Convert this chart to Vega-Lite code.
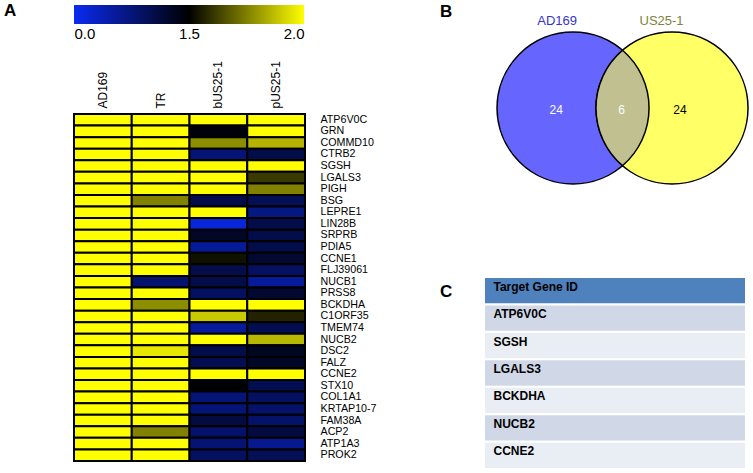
{
  "$schema": "https://vega.github.io/schema/vega-lite/v6.json",
  "background": "white",
  "padding": {"left": 4, "top": 2, "right": 0, "bottom": 0},
  "config": {"view": {"stroke": null}, "font": "Liberation Sans"},
  "spacing": 63,
  "hconcat": [
    {
      "spacing": 19,
      "vconcat": [
        {
          "width": 230,
          "height": 19,
          "title": {"text": "A", "anchor": "start", "frame": "group", "fontSize": 17, "fontWeight": "bold", "color": "black", "dx": -70, "dy": 28, "offset": 0, "baseline": "alphabetic"},
          "data": {"values": [{"low": 0, "high": 2}]},
          "mark": {
            "type": "rect",
            "color": {"gradient": "linear", "x1": 0, "x2": 1, "y1": 0, "y2": 0,
              "stops": [{"offset": 0, "color": "#0a2af0"}, {"offset": 0.5, "color": "#000000"}, {"offset": 1, "color": "#ffff00"}]}
          },
          "encoding": {
            "x": {"field": "low", "type": "quantitative",
              "scale": {"type": "pow", "exponent": 2.4094, "domain": [0, 2], "nice": false, "zero": false},
              "axis": {"values": [0, 1.5, 2], "format": ".1f", "ticks": false, "domain": false, "grid": false, "labelFlush": true, "labelFontSize": 15, "labelPadding": 2, "title": null, "labelColor": "black"}},
            "x2": {"field": "high"}
          }
        },
        {
          "width": 231,
          "height": 347,
          "data": {"values": [
            {"gene": "ATP6V0C", "AD169": 2, "TR": 2, "bUS25-1": 2, "pUS25-1": 2},
            {"gene": "GRN", "AD169": 2, "TR": 2, "bUS25-1": 1.47, "pUS25-1": 2},
            {"gene": "COMMD10", "AD169": 2, "TR": 2, "bUS25-1": 1.80, "pUS25-1": 1.87},
            {"gene": "CTRB2", "AD169": 2, "TR": 2, "bUS25-1": 1.13, "pUS25-1": 1.29},
            {"gene": "SGSH", "AD169": 2, "TR": 2, "bUS25-1": 2, "pUS25-1": 2},
            {"gene": "LGALS3", "AD169": 2, "TR": 2, "bUS25-1": 2, "pUS25-1": 1.63},
            {"gene": "PIGH", "AD169": 2, "TR": 2, "bUS25-1": 2, "pUS25-1": 1.78},
            {"gene": "BSG", "AD169": 2, "TR": 1.78, "bUS25-1": 1.29, "pUS25-1": 1.25},
            {"gene": "LEPRE1", "AD169": 2, "TR": 2, "bUS25-1": 2, "pUS25-1": 1.09},
            {"gene": "LIN28B", "AD169": 2, "TR": 2, "bUS25-1": 0.58, "pUS25-1": 1.29},
            {"gene": "SRPRB", "AD169": 2, "TR": 2, "bUS25-1": 1.39, "pUS25-1": 1.29},
            {"gene": "PDIA5", "AD169": 2, "TR": 2, "bUS25-1": 0.98, "pUS25-1": 1.29},
            {"gene": "CCNE1", "AD169": 2, "TR": 2, "bUS25-1": 1.54, "pUS25-1": 1.37},
            {"gene": "FLJ39061", "AD169": 2, "TR": 2, "bUS25-1": 1.29, "pUS25-1": 1.21},
            {"gene": "NUCB1", "AD169": 2, "TR": 1.16, "bUS25-1": 1.29, "pUS25-1": 0.98},
            {"gene": "PRSS8", "AD169": 2, "TR": 2, "bUS25-1": 1.21, "pUS25-1": 1.37},
            {"gene": "BCKDHA", "AD169": 2, "TR": 1.80, "bUS25-1": 2, "pUS25-1": 2},
            {"gene": "C1ORF35", "AD169": 2, "TR": 2, "bUS25-1": 1.91, "pUS25-1": 1.58},
            {"gene": "TMEM74", "AD169": 2, "TR": 2, "bUS25-1": 0.98, "pUS25-1": 1.26},
            {"gene": "NUCB2", "AD169": 2, "TR": 2, "bUS25-1": 2, "pUS25-1": 1.88},
            {"gene": "DSC2", "AD169": 2, "TR": 1.96, "bUS25-1": 1.29, "pUS25-1": 1.41},
            {"gene": "FALZ", "AD169": 2, "TR": 2, "bUS25-1": 1.26, "pUS25-1": 1.39},
            {"gene": "CCNE2", "AD169": 2, "TR": 2, "bUS25-1": 2, "pUS25-1": 2},
            {"gene": "STX10", "AD169": 2, "TR": 2, "bUS25-1": 1.49, "pUS25-1": 1.26},
            {"gene": "COL1A1", "AD169": 2, "TR": 2, "bUS25-1": 1.13, "pUS25-1": 1.21},
            {"gene": "KRTAP10-7", "AD169": 2, "TR": 2, "bUS25-1": 1.13, "pUS25-1": 1.18},
            {"gene": "FAM38A", "AD169": 2, "TR": 2, "bUS25-1": 1.32, "pUS25-1": 1.18},
            {"gene": "ACP2", "AD169": 2, "TR": 1.78, "bUS25-1": 1.18, "pUS25-1": 1.32},
            {"gene": "ATP1A3", "AD169": 2, "TR": 2, "bUS25-1": 1.14, "pUS25-1": 1.03},
            {"gene": "PROK2", "AD169": 2, "TR": 2, "bUS25-1": 1.21, "pUS25-1": 1.25}
          ]},
          "transform": [{"fold": ["AD169", "TR", "bUS25-1", "pUS25-1"], "as": ["sample", "value"]}],
          "mark": {"type": "rect", "stroke": "black", "strokeWidth": 2},
          "encoding": {
            "x": {"field": "sample", "type": "nominal", "sort": ["AD169", "TR", "bUS25-1", "pUS25-1"],
              "scale": {"paddingInner": 0, "paddingOuter": 0},
              "axis": {"orient": "top", "title": null, "labelAngle": -90, "ticks": false, "domain": false, "labelPadding": 6, "labelFontSize": 12, "labelColor": "black"}},
            "y": {"field": "gene", "type": "nominal", "sort": null,
              "scale": {"paddingInner": 0, "paddingOuter": 0},
              "axis": {"orient": "right", "title": null, "ticks": false, "domain": false, "labelPadding": 15, "labelFontSize": 10.7, "labelColor": "black"}},
            "color": {"field": "value", "type": "quantitative",
              "scale": {"type": "pow", "exponent": 2.4094, "domain": [0, 1.5, 2], "range": ["#0a2af0", "#000000", "#ffff00"], "interpolate": "rgb"},
              "legend": null}
          }
        }
      ]
    },
    {
      "spacing": 91,
      "vconcat": [
        {
          "width": 268,
          "height": 180,
          "title": {"text": "B", "anchor": "start", "frame": "group", "fontSize": 17, "fontWeight": "bold", "color": "black", "dx": -45, "dy": 29, "offset": 0, "baseline": "alphabetic"},
          "layer": [
            {
              "data": {"values": [{"set": "AD169", "cx": 0}, {"set": "US25-1", "cx": 1}]},
              "mark": {"type": "point", "shape": "circle", "filled": true, "size": 23104, "stroke": "black", "strokeWidth": 1.5, "opacity": 1},
              "encoding": {
                "x": {"field": "cx", "type": "quantitative", "scale": {"domain": [-0.889, 1.818], "nice": false, "zero": false}, "axis": null},
                "y": {"datum": 0, "type": "quantitative", "scale": {"domain": [-0.778, 1.04], "nice": false, "zero": false}, "axis": null},
                "fill": {"condition": {"test": "datum.set === 'AD169'", "value": "#6666ff"}, "value": "#ffff66"}
              }
            },
            {
              "data": {"values": [{"region": "AD169 and US25-1", "cx": 0.5}]},
              "mark": {"type": "point", "shape": "M0,-57.7A76,76,0,0,1,0,57.7A76,76,0,0,1,0,-57.7Z", "size": 4, "filled": true, "fill": "#c0c090", "stroke": "black", "strokeWidth": 1.5, "opacity": 1},
              "encoding": {
                "x": {"field": "cx", "type": "quantitative"},
                "y": {"datum": 0, "type": "quantitative"}
              }
            },
            {
              "data": {"values": [{"set": "AD169", "lx": -0.16, "ly": 0.879}, {"set": "US25-1", "lx": 0.894, "ly": 0.879}]},
              "mark": {"type": "text", "fontSize": 13},
              "encoding": {
                "x": {"field": "lx", "type": "quantitative"},
                "y": {"field": "ly", "type": "quantitative"},
                "text": {"field": "set"},
                "color": {"condition": {"test": "datum.set === 'AD169'", "value": "#3535cf"}, "value": "#828240"}
              }
            },
            {
              "data": {"values": [{"region": "AD169 only", "count": 24, "lx": -0.17}, {"region": "both", "count": 6, "lx": 0.49}, {"region": "US25-1 only", "count": 24, "lx": 1.08}]},
              "mark": {"type": "text", "fontSize": 12},
              "encoding": {
                "x": {"field": "lx", "type": "quantitative"},
                "y": {"datum": -0.02, "type": "quantitative"},
                "text": {"field": "count"},
                "color": {"condition": {"test": "datum.region === 'US25-1 only'", "value": "black"}, "value": "white"}
              }
            }
          ]
        },
        {
          "width": 260,
          "height": 190,
          "title": {"text": "C", "anchor": "start", "frame": "group", "fontSize": 17, "fontWeight": "bold", "color": "black", "dx": -45, "dy": 36, "offset": 0, "baseline": "alphabetic"},
          "data": {"values": [
            {"label": "Target Gene ID", "kind": "header"},
            {"label": "ATP6V0C", "kind": "odd"},
            {"label": "SGSH", "kind": "even"},
            {"label": "LGALS3", "kind": "odd"},
            {"label": "BCKDHA", "kind": "even"},
            {"label": "NUCB2", "kind": "odd"},
            {"label": "CCNE2", "kind": "even"}
          ]},
          "mark": {"type": "rect"},
          "encoding": {
            "y": {"field": "label", "type": "nominal", "sort": null,
              "scale": {"paddingInner": 0.08, "paddingOuter": 0},
              "axis": {"orient": "left", "title": null, "ticks": false, "domain": false, "labelAlign": "left", "labelPadding": -8, "labelFontSize": 12, "labelFontWeight": "bold", "labelColor": "black", "labelOffset": -4, "zindex": 1}},
            "fill": {"condition": [{"test": "datum.kind === 'header'", "value": "#4f81bd"}, {"test": "datum.kind === 'odd'", "value": "#d0d8e8"}], "value": "#e9edf4"}
          }
        }
      ]
    }
  ]
}
